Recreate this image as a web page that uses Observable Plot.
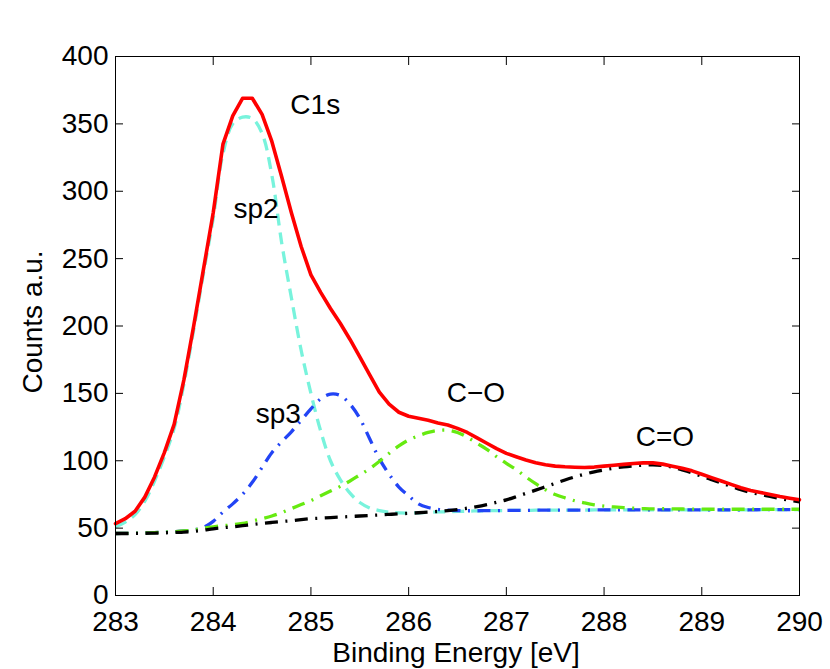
<!DOCTYPE html>
<html><head><meta charset="utf-8">
<script src="https://cdn.jsdelivr.net/npm/d3@7"></script>
<script src="https://cdn.jsdelivr.net/npm/@observablehq/plot@0.6"></script>
<style>html,body{margin:0;padding:0;background:#fff}</style>
</head><body><div id="chart"></div>
<script>
// Binding energy grid [eV]
const energy = [283.0,283.1,283.2,283.3,283.4,283.5,283.6,283.7,283.8,283.9,
  284.0,284.1,284.2,284.3,284.4,284.5,284.6,284.7,284.8,284.9,
  285.0,285.1,285.2,285.3,285.4,285.5,285.6,285.7,285.8,285.9,
  286.0,286.1,286.2,286.3,286.4,286.5,286.6,286.7,286.8,286.9,
  287.0,287.1,287.2,287.3,287.4,287.5,287.6,287.7,287.8,287.9,
  288.0,288.1,288.2,288.3,288.4,288.5,288.6,288.7,288.8,288.9,
  289.0,289.1,289.2,289.3,289.4,289.5,289.6,289.7,289.8,289.9,290.0];

// C1s measured spectrum (red)
const c1s = [53.3,57,62.5,73,88,106,127,160,200,242,
  284,335,356,369,369,357,337,311,284,259,
  238,225,213,202,190,177,164,151,142,136,
  133,131.5,130,128,126.5,124,121,117,113,109,
  105.5,103,100.5,98.5,97,96,95.5,95.2,95,95.3,
  96,96.7,97.3,98,98.4,98.4,97.5,96,94.5,92.5,
  90,87.5,85,82.5,80,78,76.5,75,73.5,72.2,71];

// sp2 component (cyan dashed)
const sp2 = [51,54.5,60,70,85,103,124,157,197,239,
  280,328,350,355,354,343,312,262,221,182,
  150,122,100,86,76,69,65,63,61.8,61.3,
  61.2,61.4,61.7,62,62.2,62.4,62.6,62.8,62.9,63,
  63.1,63.2,63.2,63.3,63.3,63.3,63.4,63.4,63.4,63.5,
  63.5,63.5,63.5,63.5,63.5,63.5,63.5,63.5,63.5,63.5,
  63.6,63.6,63.6,63.6,63.6,63.6,63.7,63.7,63.7,63.7,63.7];

// sp3 component (blue dash-dot)
const sp3 = [46,46.1,46.2,46.4,46.7,47,47.4,47.9,48.7,50.5,
  55,62,68,75,84,95,106,114,121.5,130,
  138.5,146,149.5,148.5,142,131.5,116.5,101.5,90,80.5,
  74,68,65.3,64,63.3,63,62.9,62.9,63,63,
  63.1,63.2,63.2,63.3,63.3,63.3,63.4,63.4,63.4,63.5,
  63.5,63.5,63.5,63.5,63.5,63.5,63.5,63.5,63.5,63.5,
  63.6,63.6,63.6,63.6,63.6,63.6,63.7,63.7,63.7,63.7,63.7];

// C–O component (green dash-dot)
const cO = [46,46.1,46.2,46.4,46.7,47,47.4,47.9,48.7,50,
  51,51.8,52.5,53.5,55.2,57,59,61.5,64.5,67.5,
  70.5,74,77.5,81,85,89.5,94,99.5,105.5,111,
  115.5,118.5,121,122.5,122.7,121,117.5,113,108.5,103,
  98,93.5,88,83,78.5,75,72.5,70.3,68.7,67.3,
  66.3,65.7,65.2,64.8,64.5,64.3,64.4,64.3,64.2,64.1,
  64.1,64,64,64,64,64,64,64,64,64,64];

// C=O component (black dash-dot)
const cdO = [46,46,46.1,46.2,46.3,46.5,46.8,47.1,47.6,48.5,
  49.5,50.3,51,51.8,52.7,53.5,54.2,54.9,55.5,56.3,
  57,57.4,57.8,58.2,58.6,59,59.4,59.8,60.2,60.6,
  61,61.4,61.9,62.4,63,63.8,64.8,66,67.5,69.2,
  71,73.3,75.8,78.2,80.7,83.2,85.7,88,90,91.8,
  93.2,94.5,95.5,96.2,96.7,97,96.5,95.2,93.2,91,
  88.5,86,83.5,81,78.5,76.5,75,73.5,72,70.7,69.5];

const xTicks = [283,284,285,286,287,288,289,290];
const yTicks = [0,50,100,150,200,250,300,350,400];

const labelText = ["C1s","sp2","sp3","C\u2212O","C=O"];
const labelX = [285.044,284.438,284.666,286.689,288.622];
const labelY = [364.0,286.5,134.3,149.9,117.5];

const rows = vals => energy.map((e, i) => ({e, v: vals[i]}));
const labels = labelText.map((t, i) => ({t, x: labelX[i], y: labelY[i]}));

const font = "'Liberation Sans', Arial, Helvetica, sans-serif";
const dashDot = "13,7.5,2,7.5";
const lw = 3.3;

const chart = Plot.plot({
  width: 830,
  height: 669,
  marginLeft: 115,
  marginRight: 31,
  marginTop: 56,
  marginBottom: 74,
  style: {fontFamily: font, fontSize: "28px", background: "white", color: "black"},
  x: {domain: [283, 290]},
  y: {domain: [0, 400]},
  marks: [
    Plot.line(rows(sp2), {x: "e", y: "v", stroke: "#78f3dc", strokeWidth: lw, strokeDasharray: "12,7", strokeLinecap: "butt", curve: "catmull-rom"}),
    Plot.line(rows(sp3), {x: "e", y: "v", stroke: "#2244f5", strokeWidth: lw, strokeDasharray: dashDot, strokeLinecap: "butt", curve: "catmull-rom"}),
    Plot.line(rows(cO), {x: "e", y: "v", stroke: "#66ea10", strokeWidth: lw, strokeDasharray: dashDot, strokeLinecap: "butt", curve: "catmull-rom"}),
    Plot.line(rows(cdO), {x: "e", y: "v", stroke: "black", strokeWidth: lw, strokeDasharray: dashDot, strokeLinecap: "butt", curve: "catmull-rom"}),
    Plot.line(rows(c1s), {x: "e", y: "v", stroke: "#ff0000", strokeWidth: 3.6, strokeLinejoin: "round", curve: "linear"}),
    Plot.frame({stroke: "black", strokeWidth: 1}),
    Plot.axisX({anchor: "bottom", ticks: xTicks, tickSize: 0, tickPadding: 16, label: null, fontSize: 28, tickFormat: d => String(d)}),
    Plot.axisX({anchor: "bottom", ticks: xTicks, tickSize: 8, dy: -8, fill: null, label: null}),
    Plot.axisX({anchor: "top", ticks: xTicks, tickSize: 8, dy: 8, fill: null, label: null}),
    Plot.axisY({anchor: "left", ticks: yTicks, tickSize: 0, tickPadding: 7, label: null, fontSize: 28, tickFormat: d => String(d)}),
    Plot.axisY({anchor: "left", ticks: yTicks, tickSize: 8, dx: 8, fill: null, label: null}),
    Plot.axisY({anchor: "right", ticks: yTicks, tickSize: 8, dx: -8, fill: null, label: null}),
    Plot.text(labels, {x: "x", y: "y", text: "t", fontSize: 28, fill: "black", textAnchor: "middle", lineAnchor: "middle"}),
    Plot.text(["Counts a.u."], {frameAnchor: "left", dx: -82.5, dy: -4, rotate: -90, fontSize: 28, fill: "black", textAnchor: "middle", lineAnchor: "middle"}),
    Plot.text(["Binding Energy [eV]"], {frameAnchor: "bottom", dy: 58, dx: -1.5, fontSize: 28, fill: "black", textAnchor: "middle", lineAnchor: "middle"})
  ]
});
document.getElementById("chart").appendChild(chart);
</script>
</body></html>
